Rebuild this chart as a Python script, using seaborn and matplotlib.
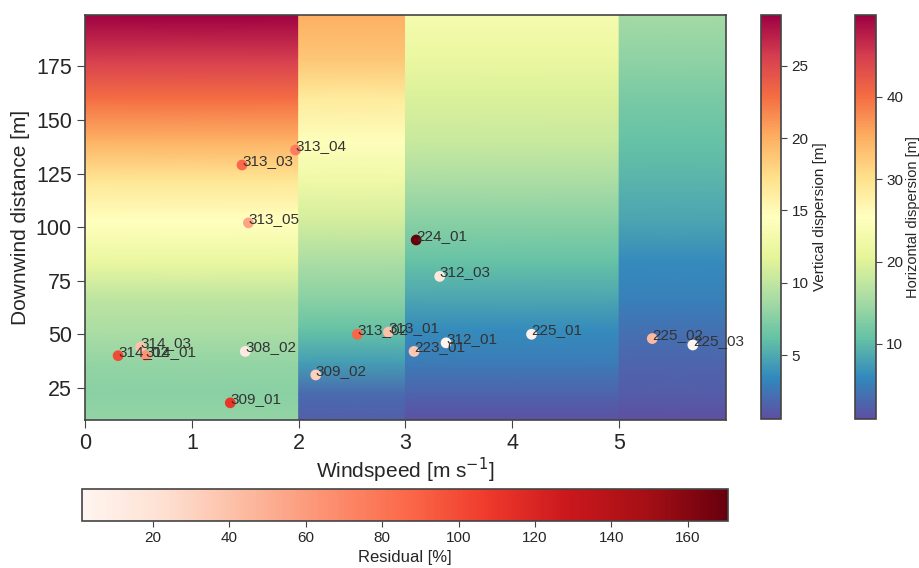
import matplotlib
matplotlib.use("Agg")
import matplotlib.pyplot as plt
import seaborn as sns
import numpy as np
from matplotlib.colors import Normalize
from matplotlib.cm import ScalarMappable

# ----------------------------------------------------------------------
# Data
# ----------------------------------------------------------------------
# stability-class columns on the windspeed axis
class_edges = [(0, 2), (2, 3), (3, 5), (5, 6)]
# downwind distances where the vertical dispersion was read
distance = [10, 22, 37, 52, 66, 84, 103, 122, 140, 160, 178, 199]
sigma_z_a = [8.1, 7.6, 8.1, 9.0, 9.8, 12.3, 14.5, 16.8, 19.8, 22.9, 25.6, 28.5]
sigma_z_b = [1.4, 2.0, 4.5, 6.2, 7.6, 9.0, 10.9, 12.9, 14.3, 16.3, 18.7, 20.1]
sigma_z_c = [0.8, 1.6, 2.8, 3.6, 4.8, 6.2, 7.6, 9.0, 10.3, 11.2, 12.3, 13.4]
sigma_z_d = [0.6, 1.3, 1.7, 2.3, 3.1, 3.6, 4.8, 5.6, 6.2, 7.0, 7.8, 8.7]
sigma_z_cols = [sigma_z_a, sigma_z_b, sigma_z_c, sigma_z_d]

# range of the horizontal dispersion field (shown as colourbar only)
sigma_y_range = (0.9, 49.9)

# release experiments
exp_names = ["313_04", "313_03", "313_05", "224_01", "312_03", "313_02",
             "313_01", "312_01", "223_01", "225_01", "225_02", "225_03",
             "314_02", "314_03", "314_01", "308_02", "309_02", "309_01"]
windspeed = [1.97, 1.47, 1.53, 3.10, 3.32, 2.55,
             2.84, 3.38, 3.08, 4.18, 5.31, 5.69,
             0.31, 0.52, 0.57, 1.50, 2.16, 1.36]
downwind = [136, 129, 102, 94, 77, 50,
            51, 46, 42, 50, 48, 45,
            40, 44, 40, 42, 31, 18]
residual = [76, 86, 56, 170.5, 14, 88,
            41, 3, 37, 5, 44, 1.4,
            100, 40, 64, 12, 32, 110]

# ----------------------------------------------------------------------
# Style
# ----------------------------------------------------------------------
sns.set_style("ticks")
plt.rcParams["font.family"] = ["Liberation Sans", "DejaVu Sans"]
plt.rcParams["axes.edgecolor"] = "#444444"
plt.rcParams["axes.linewidth"] = 1.2

fig = plt.figure(figsize=(9.2, 5.68), dpi=100)
ax = fig.add_axes([0.0924, 0.2606, 0.6967, 0.713])
cax_z = fig.add_axes([0.8272, 0.2623, 0.0217, 0.7113])
cax_y = fig.add_axes([0.9293, 0.2623, 0.0228, 0.7113])
cax_r = fig.add_axes([0.0891, 0.0827, 0.702, 0.0563])

# background: vertical dispersion per stability class
z_all = np.concatenate(sigma_z_cols)
norm_z = Normalize(vmin=z_all.min(), vmax=z_all.max())
for (x0, x1), vals in zip(class_edges, sigma_z_cols):
    grid = np.column_stack([vals, vals])
    ax.pcolormesh([x0, x1], distance, grid, shading="gouraud",
                  cmap="Spectral_r", norm=norm_z, rasterized=True)

# residual scatter
norm_r = Normalize(vmin=min(residual), vmax=max(residual))
sc = ax.scatter(windspeed, downwind, c=residual, cmap="Reds", norm=norm_r,
                s=60, edgecolors="none", zorder=3)
for name, xv, yv in zip(exp_names, windspeed, downwind):
    ax.text(xv, yv, name, fontsize=11, color="#333333", zorder=4)

ax.set_xlim(0, 6)
ax.set_ylim(10, 199)
ax.set_xticks([0, 1, 2, 3, 4, 5])
ax.set_yticks([25, 50, 75, 100, 125, 150, 175])
ax.tick_params(labelsize=15.5, length=6, color="#444444")
ax.set_xlabel(r"Windspeed [m s$^{-1}$]", fontsize=15, labelpad=1)
ax.set_ylabel("Downwind distance [m]", fontsize=15)

# colourbars
cb_z = fig.colorbar(ScalarMappable(norm=norm_z, cmap="Spectral_r"), cax=cax_z)
cb_z.set_label("Vertical dispersion [m]", fontsize=11, labelpad=3)
cb_z.set_ticks([5, 10, 15, 20, 25])

norm_y = Normalize(vmin=sigma_y_range[0], vmax=sigma_y_range[1])
cb_y = fig.colorbar(ScalarMappable(norm=norm_y, cmap="Spectral_r"), cax=cax_y)
cb_y.set_label("Horizontal dispersion [m]", fontsize=10.5, labelpad=2)
cb_y.set_ticks([10, 20, 30, 40])

cb_r = fig.colorbar(sc, cax=cax_r, orientation="horizontal")
cb_r.set_label("Residual [%]", fontsize=12, labelpad=3)
cb_r.set_ticks([20, 40, 60, 80, 100, 120, 140, 160])

for cb in (cb_z, cb_y, cb_r):
    cb.ax.tick_params(labelsize=11, length=4, color="#444444")
    cb.outline.set_edgecolor("#444444")
    cb.outline.set_linewidth(1.2)

fig.savefig("out.png", dpi=100)
